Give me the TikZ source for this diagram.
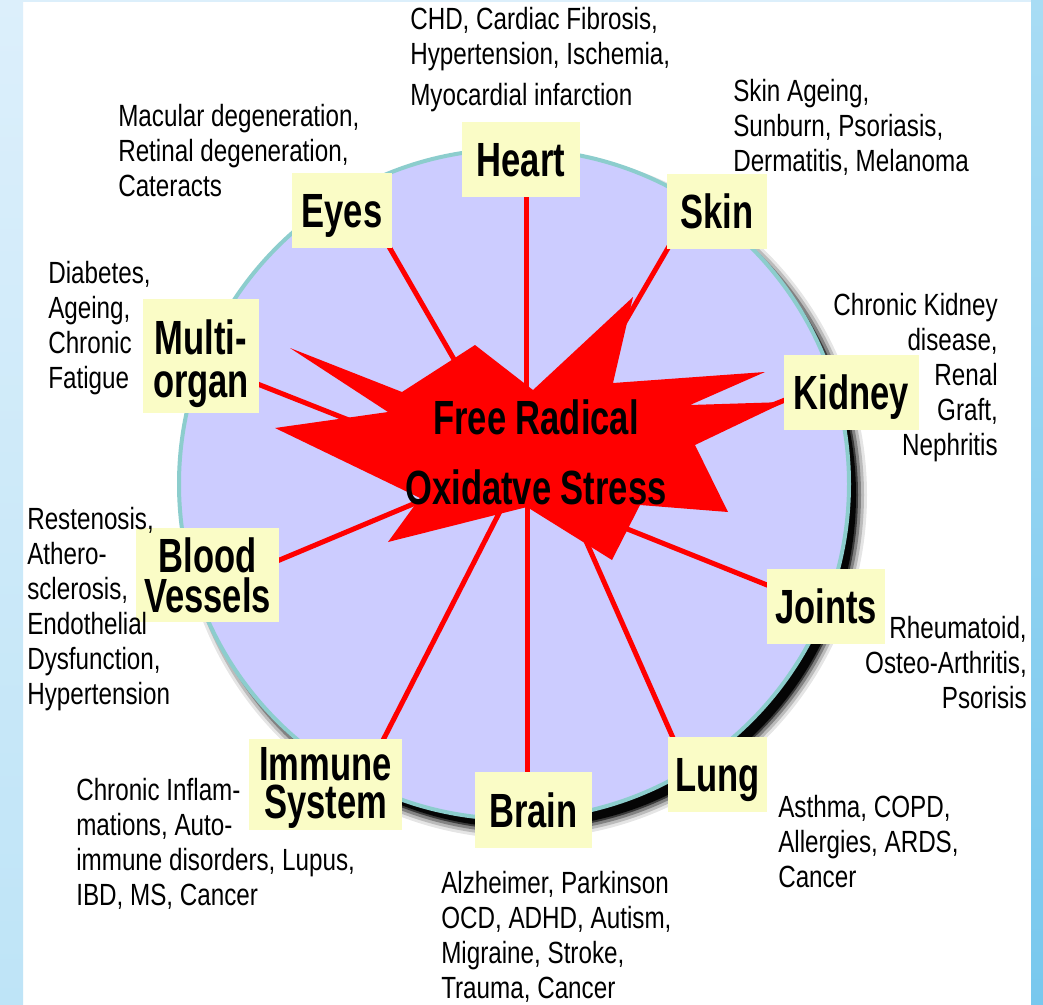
\documentclass[tikz,border=0pt]{standalone}
\usepackage{fontspec}
\setmainfont{Liberation Sans}
\newfontfamily\smallf[FakeStretch=0.79]{Liberation Sans}
\newfontfamily\boldf[FakeStretch=0.72]{Liberation Sans}
\definecolor{lav}{RGB}{204,204,255}
\definecolor{rimcol}{RGB}{140,205,205}
\definecolor{boxy}{RGB}{250,252,198}
\definecolor{lbluea}{RGB}{220,239,251}
\definecolor{lblueb}{RGB}{190,228,247}
\definecolor{rbluea}{RGB}{168,220,244}
\definecolor{rblueb}{RGB}{120,200,238}
\definecolor{redc}{RGB}{255,0,0}
\tikzset{
  box/.style={fill=boxy, inner sep=0pt, font=\boldf\bfseries\fontsize{36}{31}\selectfont, align=center},
  lab/.style={inner sep=0pt, align=center},
  one/.style={text height=25.8pt, text depth=0pt},
  txt/.style={inner sep=0pt, font=\smallf\fontsize{23}{26.25}\selectfont, align=left, anchor=north west},
  txtr/.style={inner sep=0pt, font=\smallf\fontsize{23}{26.25}\selectfont, align=right, anchor=north east},
  spoke/.style={draw=redc, line width=3.75pt},
}
\begin{document}
\begin{tikzpicture}[x=0.75pt,y=-0.75pt]
\useasboundingbox (0,0) rectangle (1043,1004);
% background strips
\fill[white] (0,0) rectangle (1043,1004);
\shade[top color=lbluea, bottom color=lblueb] (0,0) rectangle (23,1004);
\shade[top color=rbluea, bottom color=rblueb] (1031,0) rectangle (1043,1004);
\fill[lbluea] (23,0) rectangle (1031,2);
% shadow
\foreach \r/\o in {344/0.1,341/0.18,338/0.3,335/0.55,333/0.9} {
  \fill[black, opacity=\o] (523,495) circle (\r);
}
% main circle
\node[circle, fill=lav, draw=rimcol, line width=3pt, minimum size=502.5pt, inner sep=0pt] (disc) at (514,484) {};
% spoke coordinates
\coordinate (hA) at (526,190);  \coordinate (hB) at (526,440);
\coordinate (bA) at (527,780);  \coordinate (bB) at (527,460);
\coordinate (eA) at (384,238);  \coordinate (eB) at (489,420);
\coordinate (sA) at (675,236);  \coordinate (sB) at (568,420);
\coordinate (mA) at (250,381);  \coordinate (mB) at (450,460);
\coordinate (kA) at (795,396);  \coordinate (kB) at (650,454);
\coordinate (vA) at (270,564);  \coordinate (vB) at (480,476);
\coordinate (jA) at (777,589);  \coordinate (jB) at (560,502);
\coordinate (lA) at (681,756);  \coordinate (lB) at (559,480);
\coordinate (iA) at (378,750);  \coordinate (iB) at (516,480);
\foreach \a/\b in {hA/hB,bA/bB,eA/eB,sA/sB,mA/mB,kA/kB,vA/vB,jA/jB,lA/lB,iA/iB}
  \draw[spoke] (\a) -- (\b);
% star
\fill[redc] (290,348) -- (402,392) -- (475,345) -- (533,390) -- (633,297) -- (613,383)
  -- (765,372) -- (690,405) -- (785,402) -- (695,445) -- (728,512) -- (640,505)
  -- (612,560) -- (527,507) -- (388,542) -- (420,498) -- (275,428) -- (388,412) -- cycle;
\node[font=\boldf\bfseries\fontsize{36}{52.5}\selectfont, align=center, inner sep=0pt] (frad) at (536,452) {Free Radical\\Oxidatve Stress};
% boxes
\node[box, one, minimum width=88.5pt, minimum height=56.25pt] (heart) at (521,159.5) {Heart};
\node[box, one, minimum width=75pt, minimum height=56.25pt] (eyes) at (342,210.5) {Eyes};
\node[box, one, minimum width=75pt, minimum height=56.25pt] (skin) at (717,211.5) {Skin};
\node[box, minimum width=87pt, minimum height=85.5pt] (multi) at (201,356) {};
\node[lab, font=\boldf\bfseries\fontsize{36}{32}\selectfont] (multiL) at ([yshift=-6pt]multi.center) {Multi-\\organ};
\node[box, one, minimum width=101.25pt, minimum height=56.25pt] (kidney) at (851.5,392.5) {Kidney};
\node[box, minimum width=107.25pt, minimum height=70.5pt, font=\boldf\bfseries\fontsize{36}{30}\selectfont] (blood) at (207.5,575) {Blood\\Vessels};
\node[box, one, minimum width=88.5pt, minimum height=56.25pt] (joints) at (826,606.5) {Joints};
\node[box, one, minimum width=74.25pt, minimum height=56.25pt] (lung) at (717.5,774.5) {Lung};
\node[box, one, minimum width=87.75pt, minimum height=57pt] (brain) at (533.5,810) {Brain};
\node[box, minimum width=114.75pt, minimum height=68.25pt] (immune) at (325.5,784.5) {};
\node[lab, font=\boldf\bfseries\fontsize{36}{28.5}\selectfont] (immuneL) at ([yshift=-2.5pt]immune.center) {Immune\\System};
% disease texts
\node[txt] (heartT) at (410,4.5) {\strut CHD, Cardiac Fibrosis,\\Hypertension, Ischemia,\\[5pt]Myocardial infarction};
\node[txt] (eyesT) at (118,101.5) {\strut Macular degeneration,\\Retinal degeneration,\\Cateracts};
\node[txt] (skinT) at (733,76.5) {\strut Skin Ageing,\\Sunburn, Psoriasis,\\Dermatitis, Melanoma};
\node[txt] (multiT) at (48,258.5) {\strut Diabetes,\\Ageing,\\Chronic\\Fatigue};
\node[txtr] (kidneyT) at (998,290.5) {\strut Chronic Kidney\\disease,\\Renal\\Graft,\\Nephritis};
\node[txt] (bloodT) at (27,504.5) {\strut Restenosis,\\Athero-\\sclerosis,\\Endothelial\\Dysfunction,\\Hypertension};
\node[txtr] (jointsT) at (1027,613.5) {\strut Rheumatoid,\\Osteo-Arthritis,\\Psorisis};
\node[txt] (lungT) at (778,792.5) {\strut Asthma, COPD,\\Allergies, ARDS,\\Cancer};
\node[txt] (brainT) at (441,868.5) {\strut Alzheimer, Parkinson\\OCD, ADHD, Autism,\\Migraine, Stroke,\\Trauma, Cancer};
\node[txt] (immuneT) at (76,775.5) {\strut Chronic Inflam-\\mations, Auto-\\immune disorders, Lupus,\\IBD, MS, Cancer};
\end{tikzpicture}
\end{document}
